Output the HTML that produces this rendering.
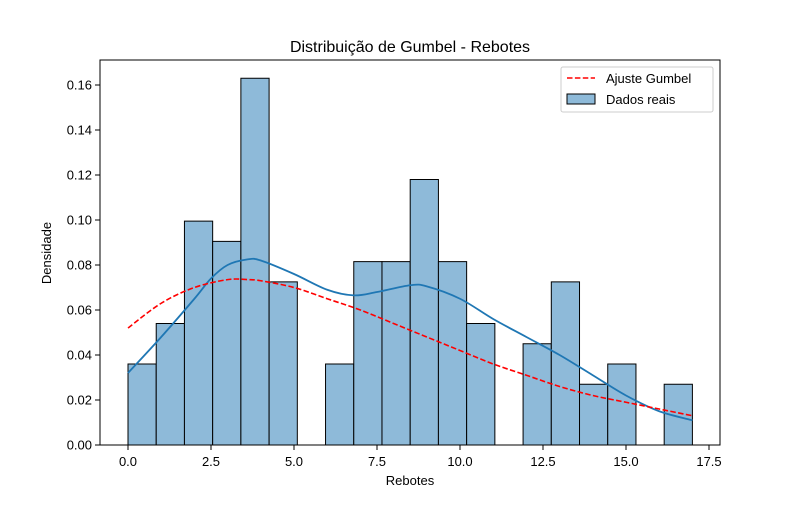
<!DOCTYPE html>
<html><head><meta charset="utf-8"><style>body{margin:0;background:#fff}svg{font-family:"Liberation Sans","DejaVu Sans",sans-serif}</style></head>
<body>
<svg id="chart" width="800" height="500" xmlns="http://www.w3.org/2000/svg">
<rect width="800" height="500" fill="#fff"/>
<g id="bars"></g>
<g id="lines"></g>
<rect x="100" y="60" width="620" height="385" fill="none" stroke="#000" stroke-width="1"/>
<g id="xt"></g>
<g id="yt"></g>
<text x="410" y="52" font-size="16" text-anchor="middle">Distribuição de Gumbel - Rebotes</text>
<text x="410" y="485" font-size="13" text-anchor="middle">Rebotes</text>
<text x="51" y="253" font-size="13" text-anchor="middle" transform="rotate(-90 51 253)">Densidade</text>
<g>
<rect x="561" y="67" width="152" height="45" fill="#fff" fill-opacity="0.8" stroke="#ccc" rx="2"/>
<line x1="567" y1="78" x2="595" y2="78" stroke="red" stroke-width="1.5" stroke-dasharray="5.5,2.4"/>
<text x="606" y="83" font-size="13">Ajuste Gumbel</text>
<rect x="567" y="94" width="28" height="10" fill="#8ebad9" stroke="#000"/>
<text x="606" y="104" font-size="13">Dados reais</text>
</g>
</svg>
<script>
const binEdgeStart=0, binWidth=0.85;
const binHeights=[0.036,0.054,0.0995,0.0905,0.163,0.0725,0,0.036,0.0815,0.0815,0.118,0.0815,0.054,0,0.045,0.0725,0.027,0.036,0,0.027];
const kdeX=[0,1,2,2.5,3,3.6,4,5,6,6.8,7.5,8.5,9,10,11,12,13,14,15,16,17];
const kdeY=[0.032,0.048,0.065,0.074,0.080,0.0825,0.082,0.076,0.069,0.0665,0.068,0.071,0.0705,0.065,0.056,0.048,0.040,0.031,0.022,0.015,0.011];
const gumX=[0,1,2,3,3.6,4,5,6,7,8,9,10,11,12,13,14,15,16,17];
const gumY=[0.052,0.063,0.070,0.0735,0.0735,0.073,0.070,0.065,0.060,0.054,0.048,0.042,0.036,0.031,0.026,0.022,0.019,0.016,0.013];
const xTicks=[0,2.5,5,7.5,10,12.5,15,17.5];
const yTicks=[0,0.02,0.04,0.06,0.08,0.10,0.12,0.14,0.16];
const NS="http://www.w3.org/2000/svg";
const sx=v=>128+v*(581/17.5), sy=v=>445-v*2250;
function mk(t,a,p){const e=document.createElementNS(NS,t);for(const k in a)e.setAttribute(k,a[k]);p.appendChild(e);return e;}
function smooth(xs,ys){const p=xs.map((x,i)=>[sx(x),sy(ys[i])]);let d='M'+p[0][0]+','+p[0][1];
for(let i=0;i<p.length-1;i++){const p0=p[Math.max(0,i-1)],p1=p[i],p2=p[i+1],p3=p[Math.min(p.length-1,i+2)];
const c1=[p1[0]+(p2[0]-p0[0])/6,p1[1]+(p2[1]-p0[1])/6],c2=[p2[0]-(p3[0]-p1[0])/6,p2[1]-(p3[1]-p1[1])/6];
d+='C'+c1[0]+','+c1[1]+' '+c2[0]+','+c2[1]+' '+p2[0]+','+p2[1];}return d;}
const bars=document.getElementById('bars');
binHeights.forEach((h,i)=>{if(h<=0)return;const x0=sx(binEdgeStart+i*binWidth),x1=sx(binEdgeStart+(i+1)*binWidth);
const r=mk('rect',{x:x0,y:sy(h),width:x1-x0,height:sy(0)-sy(h),fill:'#8ebad9',stroke:'#000','stroke-width':1},bars);

});
const lines=document.getElementById('lines');
const k=mk('path',{d:smooth(kdeX,kdeY),fill:'none',stroke:'#1f77b4','stroke-width':1.8},lines);


const g=mk('path',{d:smooth(gumX,gumY),fill:'none',stroke:'red','stroke-width':1.6,'stroke-dasharray':'5.5,2.4'},lines);


const xt=document.getElementById('xt');
xTicks.forEach(v=>{const x=sx(v);mk('line',{x1:x,x2:x,y1:445,y2:450,stroke:'#000'},xt);
const t=mk('text',{x:x,y:466,'font-size':13,'text-anchor':'middle'},xt);t.textContent=v.toFixed(1);

});
const yt=document.getElementById('yt');
yTicks.forEach(v=>{const y=sy(v);mk('line',{x1:95,x2:100,y1:y,y2:y,stroke:'#000'},yt);
const t=mk('text',{x:92,y:y+4.5,'font-size':13,'text-anchor':'end'},yt);t.textContent=v.toFixed(2);

});
</script>
</body></html>
